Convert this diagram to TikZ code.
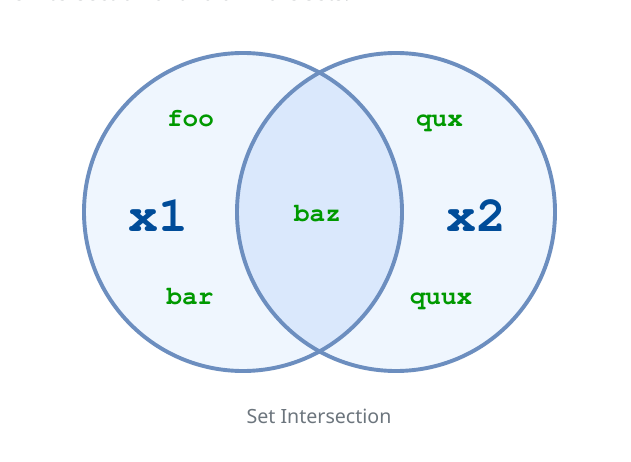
\documentclass[tikz,border=0pt]{standalone}
\usepackage[T1]{fontenc}
\usepackage{fontspec}
\setmainfont{Noto Sans}
\newcommand{\courb}{\fontencoding{T1}\fontfamily{pcr}\fontseries{b}\selectfont}
\definecolor{strokeblue}{HTML}{6C8EBF}
\definecolor{lightfill}{HTML}{EFF6FE}
\definecolor{interfill}{HTML}{DAE8FC}
\definecolor{labgreen}{HTML}{009900}
\definecolor{bigblue}{HTML}{004C99}
\definecolor{capgray}{HTML}{6C757D}
\tikzset{
  setcircle/.style={draw=strokeblue, line width=3.9pt},
  elem/.style={font=\fontsize{26}{26}\courb, text=labgreen, inner sep=0pt, anchor=base},
  setname/.style={font=\fontsize{50}{50}\courb, text=bigblue, inner sep=0pt, anchor=base},
  caption/.style={font=\fontsize{19.6}{20}\selectfont, text=capgray, inner sep=0pt, anchor=base}
}
\begin{document}
\begin{tikzpicture}[x=1pt,y=-1pt]
\useasboundingbox (0,0) rectangle (631,462);
\fill[white] (0,0) rectangle (631,462);
\begin{scope}
\clip (0,0) rectangle (631,462);
\node[font=\fontsize{21}{21}\selectfont, text=capgray!80!black, inner sep=0pt, anchor=base east] (top) at (350,0.5) {e intersection of two or more sets.};
\end{scope}
\coordinate (c1) at (243,212);
\coordinate (c2) at (396,212);
\fill[lightfill] (c1) circle[radius=159];
\fill[lightfill] (c2) circle[radius=159];
\begin{scope}
\clip (c1) circle[radius=159];
\fill[interfill] (c2) circle[radius=159];
\end{scope}
\draw[setcircle] (c1) circle[radius=159];
\draw[setcircle] (c2) circle[radius=159];
\node[elem] (foo) at (190.5,127) {foo};
\node[elem] (bar) at (190,304) {bar};
\node[elem] (baz) at (317.5,222) {baz};
\node[elem] (qux) at (439.5,127) {qux};
\node[elem] (quux) at (441,304) {quux};
\node[setname] (x1) at (158.5,232) {x1};
\node[setname] (x2) at (476,232) {x2};
\node[caption] (cap) at (319,423) {Set Intersection};
\end{tikzpicture}
\end{document}
